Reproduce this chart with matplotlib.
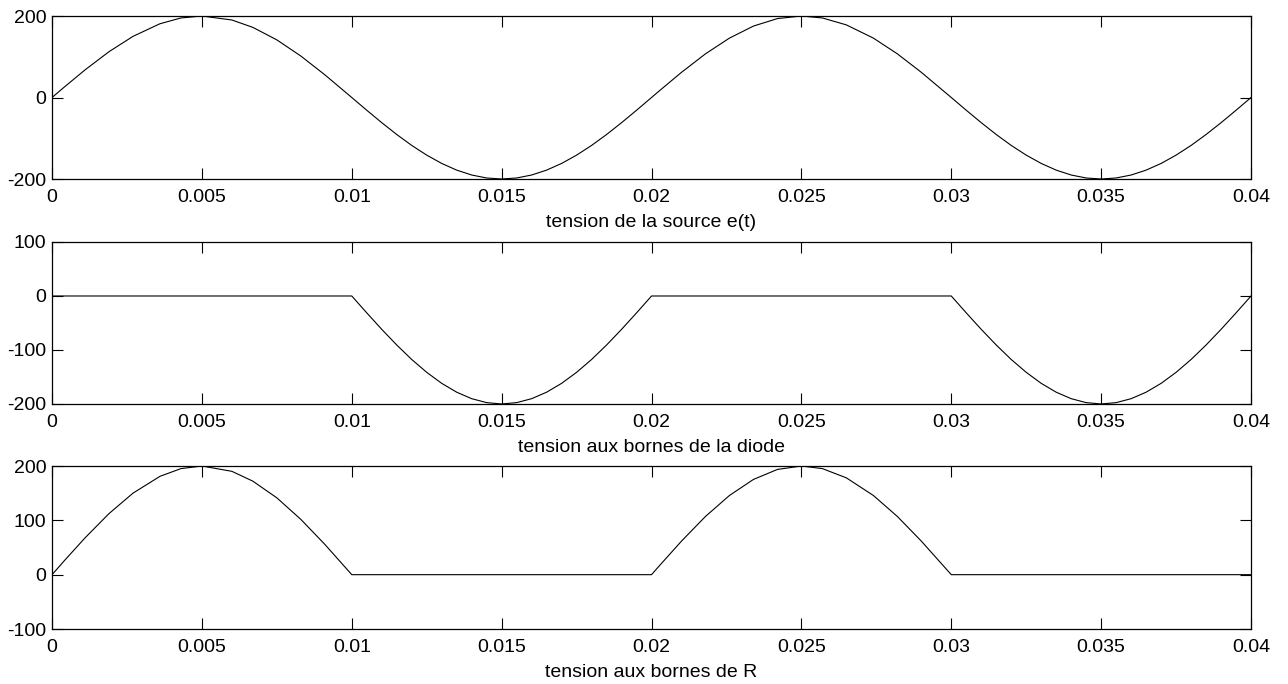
import matplotlib
matplotlib.use("Agg")
import matplotlib.pyplot as plt
import numpy as np

# ---- data ----
t_pos_a = [0.0, 0.0004, 0.0011, 0.0019, 0.0027, 0.0036, 0.0043, 0.0050,
           0.0060, 0.0067, 0.0075, 0.0083, 0.0091, 0.0100]
v_pos_a = [0.0, 25.1, 67.7, 112.4, 150.0, 181.0, 195.2, 200.0,
           190.2, 172.1, 141.4, 101.8, 55.8, 0.0]

t_neg_a = [0.0100, 0.0105, 0.0110, 0.0115, 0.0120, 0.0125, 0.0130, 0.0135,
           0.0140, 0.0145, 0.0150, 0.0155, 0.0160, 0.0165, 0.0170, 0.0175,
           0.0180, 0.0185, 0.0190, 0.0195, 0.0200]
v_neg_a = [0.0, -31.3, -61.8, -90.8, -117.6, -141.4, -161.8, -178.2,
           -190.2, -197.5, -200.0, -197.5, -190.2, -178.2, -161.8, -141.4,
           -117.6, -90.8, -61.8, -31.3, 0.0]

t_pos_b = [0.0200, 0.0202, 0.0210, 0.0218, 0.0226, 0.0234, 0.0242, 0.0250,
           0.0257, 0.0265, 0.0274, 0.0282, 0.0290, 0.0300]
v_pos_b = [0.0, 12.6, 61.8, 107.2, 145.8, 175.3, 193.7, 200.0,
           195.2, 178.2, 145.8, 107.2, 61.8, 0.0]

t_neg_b = [0.0300, 0.0305, 0.0310, 0.0315, 0.0320, 0.0325, 0.0330, 0.0335,
           0.0340, 0.0345, 0.0350, 0.0355, 0.0360, 0.0365, 0.0370, 0.0375,
           0.0380, 0.0385, 0.0390, 0.0395, 0.0400]
v_neg_b = [0.0, -31.3, -61.8, -90.8, -117.6, -141.4, -161.8, -178.2,
           -190.2, -197.5, -200.0, -197.5, -190.2, -178.2, -161.8, -141.4,
           -117.6, -90.8, -61.8, -31.3, 0.0]

x_ticks = [0, 0.005, 0.01, 0.015, 0.02, 0.025, 0.03, 0.035, 0.04]
x_tick_labels = ["0", "0.005", "0.01", "0.015", "0.02", "0.025", "0.03", "0.035", "0.04"]

titles = ["tension de la source e(t)", "tension aux bornes de la diode", "tension aux bornes de R"]
y_ticks = [[-200, 0, 200], [-200, -100, 0, 100], [-100, 0, 100, 200]]
y_lims = [(-200, 200), (-200, 100), (-100, 200)]

# build series
t_e = t_pos_a + t_neg_a[1:] + t_pos_b[1:] + t_neg_b[1:]
v_e = v_pos_a + v_neg_a[1:] + v_pos_b[1:] + v_neg_b[1:]

t_d = [0.0, 0.0100] + t_neg_a[1:] + [0.0300] + t_neg_b[1:]
v_d = [0.0, 0.0] + v_neg_a[1:] + [0.0] + v_neg_b[1:]

t_r = t_pos_a + [0.0200] + t_pos_b[1:] + [0.0400]
v_r = v_pos_a + [0.0] + v_pos_b[1:] + [0.0]

series = [(t_e, v_e), (t_d, v_d), (t_r, v_r)]

plt.rcParams['font.family'] = ['Liberation Sans', 'DejaVu Sans']

fig = plt.figure(figsize=(12.88, 6.84), dpi=100)
positions = [
    [0.0404, 0.7383, 0.9309, 0.2383],
    [0.0404, 0.4094, 0.9309, 0.2368],
    [0.0404, 0.0804, 0.9309, 0.2383],
]

for pos, (tt, vv), title, yt, yl in zip(positions, series, titles, y_ticks, y_lims):
    ax = fig.add_axes(pos)
    ax.plot(tt, vv, color='black', linewidth=0.8)
    ax.set_xlim(0, 0.04)
    ax.set_ylim(*yl)
    ax.set_xticks(x_ticks)
    ax.set_xticklabels(x_tick_labels)
    ax.set_yticks(yt)
    ax.set_yticklabels([str(v) for v in yt])
    ax.tick_params(direction='in', length=8, width=0.8, top=True, right=True,
                   labelsize=14, color='black')
    ax.tick_params(axis='x', pad=7)
    ax.tick_params(axis='y', pad=4)
    for s in ax.spines.values():
        s.set_linewidth(0.9)
        s.set_color('black')
    ax.set_xlabel(title, fontsize=14, labelpad=6)

fig.savefig("out.png", dpi=100)
